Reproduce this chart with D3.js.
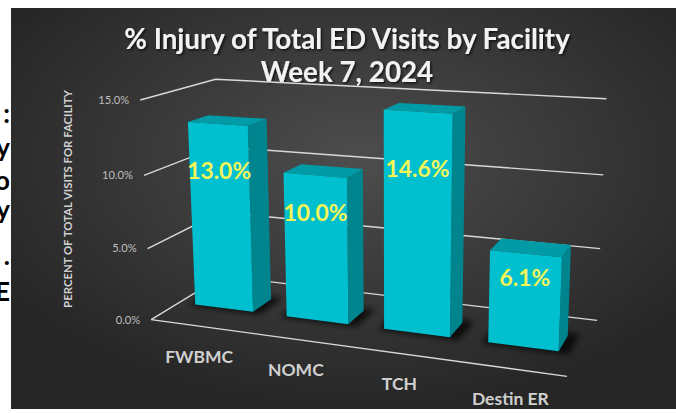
<!DOCTYPE html>
<html>
<head>
<meta charset="utf-8">
<script src="https://cdn.jsdelivr.net/npm/d3@7"></script>
<style>
  html, body { margin: 0; padding: 0; background: #fff; }
  svg { display: block; }
</style>
</head>
<body>
<svg id="chart" width="676" height="413"></svg>
<script>
const categories = ['FWBMC', 'NOMC', 'TCH', 'Destin ER'];
const values = [13.0, 10.0, 14.6, 6.1];
const yTicks = [0, 5, 10, 15];
const titleLines = ['% Injury of Total ED Visits by Facility', 'Week 7, 2024'];
const yTitle = 'PERCENT OF TOTAL VISITS FOR FACILITY';
// bits of slide text cut off by the left edge of the screenshot
const sideGlyphs = [':', 'y', 'o', 'y', '.', 'E'];
const sideGlyphBase = [123, 157, 190, 219, 265, 301];

const W = 676, H = 413;
const FONT = 'Lato, "Open Sans", sans-serif';

const svg = d3.select('#chart');

// where the plot box lands in the picture: [x(0..1), value(0..1), depth(0..1), px, py]
const anchors = [
  [0, 0, 0, 152, 319], [0, 1 / 3, 0, 147, 248], [0, 2 / 3, 0, 144, 176], [0, 1, 0, 140, 100],
  [0, 1, 1, 216, 79], [0, 0, 1, 222, 277],
  [1, 1, 1, 606, 99], [1, 2 / 3, 1, 604, 175], [1, 1 / 3, 1, 600, 248], [1, 0, 1, 597, 320],
  [1, 0, 0, 567, 377]
];

// least squares fit of a perspective camera (DLT)
function fitCamera(pts) {
  const s = 300, cx = 338, cy = 206;
  const A = [], b = [];
  pts.forEach(([X, Y, Z, u, v]) => {
    u = (u - cx) / s; v = (v - cy) / s;
    A.push([X, Y, Z, 1, 0, 0, 0, 0, -u * X, -u * Y, -u * Z]); b.push(u);
    A.push([0, 0, 0, 0, X, Y, Z, 1, -v * X, -v * Y, -v * Z]); b.push(v);
  });
  const n = 11;
  const M = d3.range(n).map(i => d3.range(n + 1).map(j =>
    j < n ? d3.sum(A, r => r[i] * r[j]) : d3.sum(A, (r, k) => r[i] * b[k])));
  for (let i = 0; i < n; i++) {
    let p = i;
    for (let r = i + 1; r < n; r++) if (Math.abs(M[r][i]) > Math.abs(M[p][i])) p = r;
    [M[i], M[p]] = [M[p], M[i]];
    for (let r = 0; r < n; r++) {
      if (r === i) continue;
      const f = M[r][i] / M[i][i];
      for (let c = i; c <= n; c++) M[r][c] -= f * M[i][c];
    }
  }
  const p = M.map((r, i) => r[n] / r[i]);
  return (X, Y, Z) => {
    const w = p[8] * X + p[9] * Y + p[10] * Z + 1;
    return [(p[0] * X + p[1] * Y + p[2] * Z + p[3]) / w * s + cx,
            (p[4] * X + p[5] * Y + p[6] * Z + p[7]) / w * s + cy];
  };
}

const proj = fitCamera(anchors);
const x = d3.scaleBand().domain(categories).range([0, 1]).paddingInner(0.36).paddingOuter(0.18);
const y = d3.scaleLinear().domain([0, 15]).range([0, 1]);
const zFront = 0.37, zBack = 0.65;
const P = (X, v, Z) => proj(X, y(v), Z);
const line = d3.line();
const poly = pts => line(pts) + 'Z';

function fitSize(text, weight, target) {
  const t = svg.append('text').attr('font-family', FONT).attr('font-weight', weight)
    .attr('font-size', 20).text(text);
  const w = t.node().getComputedTextLength();
  t.remove();
  return 20 * target / w;
}

// defs
const defs = svg.append('defs');
const bg = defs.append('radialGradient').attr('id', 'bg')
  .attr('cx', '52%').attr('cy', '38%').attr('r', '62%');
bg.append('stop').attr('offset', '0%').attr('stop-color', '#4d4d4d');
bg.append('stop').attr('offset', '100%').attr('stop-color', '#262626');
defs.append('filter').attr('id', 'blur').attr('x', '-50%').attr('y', '-50%')
  .attr('width', '200%').attr('height', '200%')
  .append('feGaussianBlur').attr('stdDeviation', 3);
const ts = defs.append('filter').attr('id', 'tshadow');
ts.append('feDropShadow').attr('dx', 1.5).attr('dy', 1.5).attr('stdDeviation', 1.2)
  .attr('flood-color', '#000').attr('flood-opacity', 0.7);

// background
svg.append('rect').attr('x', 11).attr('y', 8).attr('width', W - 11).attr('height', 401)
  .attr('fill', 'url(#bg)');

svg.append('g').selectAll('text').data(sideGlyphs).join('text')
  .attr('x', 10).attr('y', (d, i) => sideGlyphBase[i])
  .attr('text-anchor', 'end').attr('font-family', FONT).attr('font-weight', 700)
  .attr('font-size', 26).attr('fill', '#000').text(d => d);
svg.append('rect').attr('x', 11).attr('y', 0).attr('width', W - 11).attr('height', 8).attr('fill', '#fff');

// title
const titleSize = fitSize(titleLines[0], 700, 446);
svg.append('g').attr('filter', 'url(#tshadow)').selectAll('text').data(titleLines).join('text')
  .attr('x', 347).attr('y', (d, i) => 49 + i * 33)
  .attr('text-anchor', 'middle').attr('font-family', FONT).attr('font-weight', 700)
  .attr('font-size', titleSize).attr('fill', '#f2f2f2').text(d => d);

// gridlines on the walls
const grid = svg.append('g').attr('fill', 'none').attr('stroke', '#d9d9d9').attr('stroke-width', 1.4);
grid.selectAll('path.g').data(yTicks).join('path').attr('class', 'g')
  .attr('d', t => line([P(0, t, 0), P(0, t, 1), P(1, t, 1)]));
grid.append('path').attr('d', line([P(0, 0, 0), P(1, 0, 0)]));

// tick labels
const tickSize = fitSize('15.0%', 400, 31);
svg.append('g').selectAll('text').data(yTicks).join('text')
  .attr('x', t => P(0, t, 0)[0] - 11).attr('y', t => P(0, t, 0)[1])
  .attr('dy', '0.35em').attr('text-anchor', 'end')
  .attr('font-family', FONT).attr('font-size', tickSize).attr('fill', '#bfbfbf')
  .text(t => d3.format('.1f')(t) + '%');

// axis title
svg.append('text').attr('transform', 'translate(68,199) rotate(-90)')
  .attr('dy', '0.35em').attr('text-anchor', 'middle')
  .attr('font-family', FONT).attr('font-weight', 700)
  .attr('font-size', fitSize(yTitle, 700, 218)).attr('fill', '#d0d0d0').text(yTitle);

const bars = categories.map((c, i) => ({ c, v: values[i], x0: x(c), x1: x(c) + x.bandwidth() }));

// shadows on the floor
const e = 0.012;
svg.append('g').attr('filter', 'url(#blur)').selectAll('path').data(bars).join('path')
  .attr('d', d => poly([P(d.x0 - e, 0, zFront - 0.03), P(d.x1 + e * 2, 0, zFront - 0.03),
                        P(d.x1 + e * 2, 0, zBack + 0.05), P(d.x0 - e, 0, zBack + 0.05)]))
  .attr('fill', '#000').attr('opacity', 0.75);

// 3D columns
const barG = svg.append('g').selectAll('g').data(bars).join('g');
barG.append('path').attr('fill', '#00848e')
  .attr('d', d => poly([P(d.x1, 0, zFront), P(d.x1, 0, zBack), P(d.x1, d.v, zBack), P(d.x1, d.v, zFront)]));
barG.append('path').attr('fill', '#009ba6')
  .attr('d', d => poly([P(d.x0, d.v, zFront), P(d.x1, d.v, zFront), P(d.x1, d.v, zBack), P(d.x0, d.v, zBack)]));
barG.append('path').attr('fill', '#00c0cf')
  .attr('d', d => poly([P(d.x0, 0, zFront), P(d.x1, 0, zFront), P(d.x1, d.v, zFront), P(d.x0, d.v, zFront)]));

// value labels, set about three quarters up the front face
const valSize = fitSize('13.0%', 700, 64);
barG.append('text')
  .attr('x', d => P((d.x0 + d.x1) / 2, d.v * 0.75, zFront)[0])
  .attr('y', d => P((d.x0 + d.x1) / 2, d.v * 0.75, zFront)[1])
  .attr('dy', '0.36em')
  .attr('text-anchor', 'middle').attr('font-family', FONT).attr('font-weight', 700)
  .attr('font-size', valSize).attr('fill', '#f4f458').text(d => d3.format('.1f')(d.v) + '%');

// category labels
const catSize = fitSize('FWBMC', 700, 68);
svg.append('g').selectAll('text').data(bars).join('text')
  .attr('x', d => P((d.x0 + d.x1) / 2, 0, 0)[0] + 2)
  .attr('y', d => P((d.x0 + d.x1) / 2, 0, 0)[1] + 37)
  .attr('text-anchor', 'middle').attr('font-family', FONT).attr('font-weight', 700)
  .attr('font-size', catSize).attr('fill', '#d0d0d0').text(d => d.c);

svg.append('rect').attr('x', 11).attr('y', 409).attr('width', W - 11).attr('height', 4).attr('fill', '#fff');
</script>
</body>
</html>
